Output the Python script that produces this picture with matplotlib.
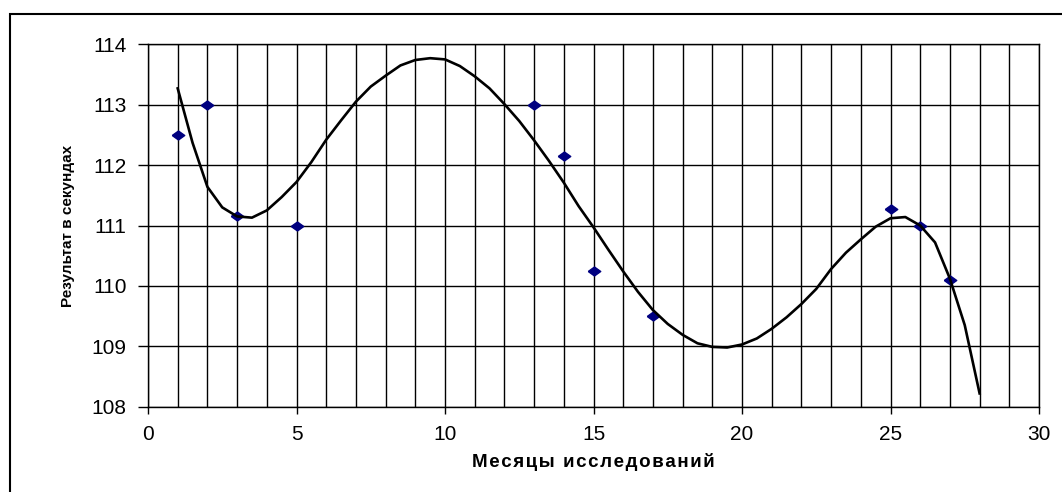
import matplotlib

matplotlib.use("Agg")
import matplotlib.pyplot as plt
from matplotlib.patches import Rectangle
from matplotlib.ticker import MultipleLocator

plt.rcParams["font.family"] = ["Liberation Sans", "DejaVu Sans"]

# measured results
months = [1, 2, 3, 5, 13, 14, 15, 17, 25, 26, 27]
results = [112.5, 113.0, 111.15, 111.0, 113.0, 112.15, 110.25, 109.5, 111.27, 111.0, 110.1]

# trend line, every half month
trend_x = [1, 1.5, 2, 2.5, 3, 3.5, 4, 4.5, 5, 5.5, 6, 6.5, 7, 7.5, 8, 8.5, 9, 9.5,
           10, 10.5, 11, 11.5, 12, 12.5, 13, 13.5, 14, 14.5, 15, 15.5, 16, 16.5,
           17, 17.5, 18, 18.5, 19, 19.5, 20, 20.5, 21, 21.5, 22, 22.5, 23, 23.5,
           24, 24.5, 25, 25.5, 26, 26.5, 27, 27.5, 28]
trend_y = [113.27, 112.37, 111.64, 111.3, 111.15, 111.13, 111.25, 111.47, 111.72,
           112.05, 112.42, 112.74, 113.05, 113.3, 113.48, 113.65, 113.74, 113.77,
           113.75, 113.64, 113.47, 113.27, 113.01, 112.73, 112.41, 112.07, 111.71,
           111.32, 110.97, 110.6, 110.24, 109.9, 109.6, 109.37, 109.19, 109.05,
           108.99, 108.98, 109.03, 109.13, 109.29, 109.48, 109.70, 109.95, 110.28,
           110.55, 110.77, 110.98, 111.12, 111.14, 111.0, 110.72, 110.12, 109.35,
           108.22]

fig = plt.figure(figsize=(10.62, 4.92), dpi=100)
ax = fig.add_axes([148 / 1062, 1 - 406.7 / 492, (1039 - 148) / 1062, (406.7 - 44.3) / 492])

# outer chart border (cropped on the right and bottom)
fig.patches.append(Rectangle((10 / 1062, -0.5), 2.0, 1 - 14 / 492 + 0.5,
                             transform=fig.transFigure, fill=False,
                             edgecolor="black", linewidth=1.5))

diamond = [(-1, 0), (0, 0.72), (1, 0), (0, -0.72), (-1, 0)]
ax.plot(months, results, linestyle="none", marker=diamond, markersize=9,
        color="#000080", zorder=3)
ax.plot(trend_x, trend_y, color="black", linewidth=1.9, zorder=4)

ax.set_xlim(0, 30)
ax.set_ylim(108, 114)
ax.xaxis.set_major_locator(MultipleLocator(5))
ax.xaxis.set_minor_locator(MultipleLocator(1))
ax.yaxis.set_major_locator(MultipleLocator(1))

ax.grid(True, which="both", color="black", linewidth=1.0)
ax.set_axisbelow(True)
for spine in ax.spines.values():
    spine.set_color("black")
    spine.set_linewidth(1.0)

ax.tick_params(axis="x", which="major", length=5, width=1, pad=8, labelsize=15)
ax.tick_params(axis="x", which="minor", length=0)
ax.tick_params(axis="y", which="major", length=7.5, width=1, pad=8, labelsize=15)

# Excel draws this title with wide letter spacing
xlabel = "\u200a".join("Месяцы исследований")
ax.set_xlabel(xlabel, fontsize=13.5, fontweight="bold", labelpad=7)
ax.set_ylabel("Результат в секундах", fontsize=11, fontweight="bold", labelpad=12)

fig.savefig("out.png", dpi=100)
